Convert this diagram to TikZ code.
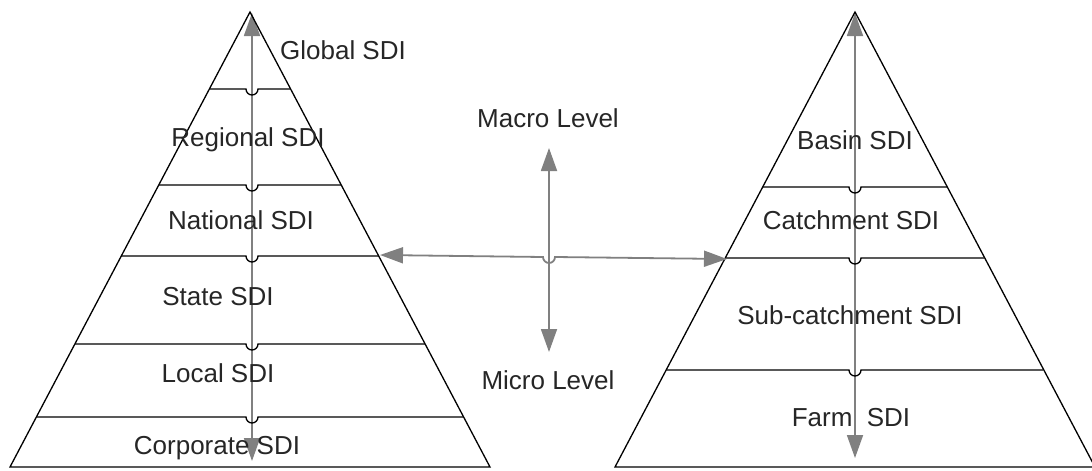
\documentclass[tikz,border=0pt]{standalone}
\usepackage{fontspec}
\setmainfont{Liberation Sans}
\usetikzlibrary{arrows.meta}
\definecolor{arrowgray}{HTML}{808080}
\definecolor{textgray}{HTML}{262626}
\begin{document}
\begin{tikzpicture}[x=1pt,y=-1pt,
  edge/.style={draw=black,line width=1.3pt,line join=miter},
  layer/.style={draw=black,line width=1.3pt},
  flow/.style={draw=arrowgray,line width=1.8pt,{Triangle[length=23pt,width=16pt]}-{Triangle[length=23pt,width=16pt]}},
  lbl/.style={inner sep=0pt,text=textgray,font=\fontsize{26}{30}\selectfont}]
\useasboundingbox (0,0) rectangle (1092,471);

% ---- left pyramid ----
\coordinate (LA) at (250,12);
\coordinate (LB) at (10,467);
\coordinate (LC) at (490,467);
\coordinate (LTop) at (252,13);
\coordinate (LBot) at (252,461);
\draw[flow] (LBot) -- (LTop);
\draw[edge] (LB) -- (LA) -- (LC) -- cycle;
\foreach \y/\xl/\xr in {89/209.4/290.6, 185/158.8/341.2, 256/121.4/378.6, 344/75/425, 417/36.5/463.5}{
  \draw[layer] (\xl,\y) -- (246,\y) arc[start angle=180,end angle=0,radius=6] -- (\xr,\y);
}
\node[lbl] (global) at (343,50) {Global SDI};
\node[lbl] (regional) at (248,140) {Regional SDI};
\node[lbl] (national) at (241,220) {National SDI};
\node[lbl] (state) at (218,297) {State SDI};
\node[lbl] (local) at (218,373) {Local SDI};
\node[lbl] (corporate) at (217,448) {Corporate SDI};

% ---- right pyramid ----
\coordinate (RA) at (855,12);
\coordinate (RB) at (615,467);
\coordinate (RC) at (1095,467);
\coordinate (RTop) at (855,13);
\coordinate (RBot) at (855,458);
\draw[flow] (RBot) -- (RTop);
\draw[edge] (RB) -- (RA) -- (RC) -- cycle;
\foreach \y/\xl/\xr in {187/763.2/946.8, 258/725.8/984.2, 370/666.8/1043.2}{
  \draw[layer] (\xl,\y) -- (849,\y) arc[start angle=180,end angle=0,radius=6] -- (\xr,\y);
}
\node[lbl] (basin) at (855,140) {Basin SDI};
\node[lbl] (catch) at (851,220) {Catchment SDI};
\node[lbl] (subcatch) at (850,315) {Sub-catchment SDI};
\node[lbl] (farm) at (851,418) {Farm\ \ SDI};

% ---- scale indicator ----
\node[lbl] (macro) at (548,118) {Macro Level};
\node[lbl] (micro) at (548,380) {Micro Level};
\coordinate (vTop) at (549,148);
\coordinate (vBot) at (549,352);
\coordinate (hL) at (380,255);
\coordinate (hR) at (727,259);
\draw[flow] (vBot) -- (vTop);
\draw[flow] (hL) -- (543,257) arc[start angle=180,end angle=0,radius=6] -- (hR);
\end{tikzpicture}
\end{document}
